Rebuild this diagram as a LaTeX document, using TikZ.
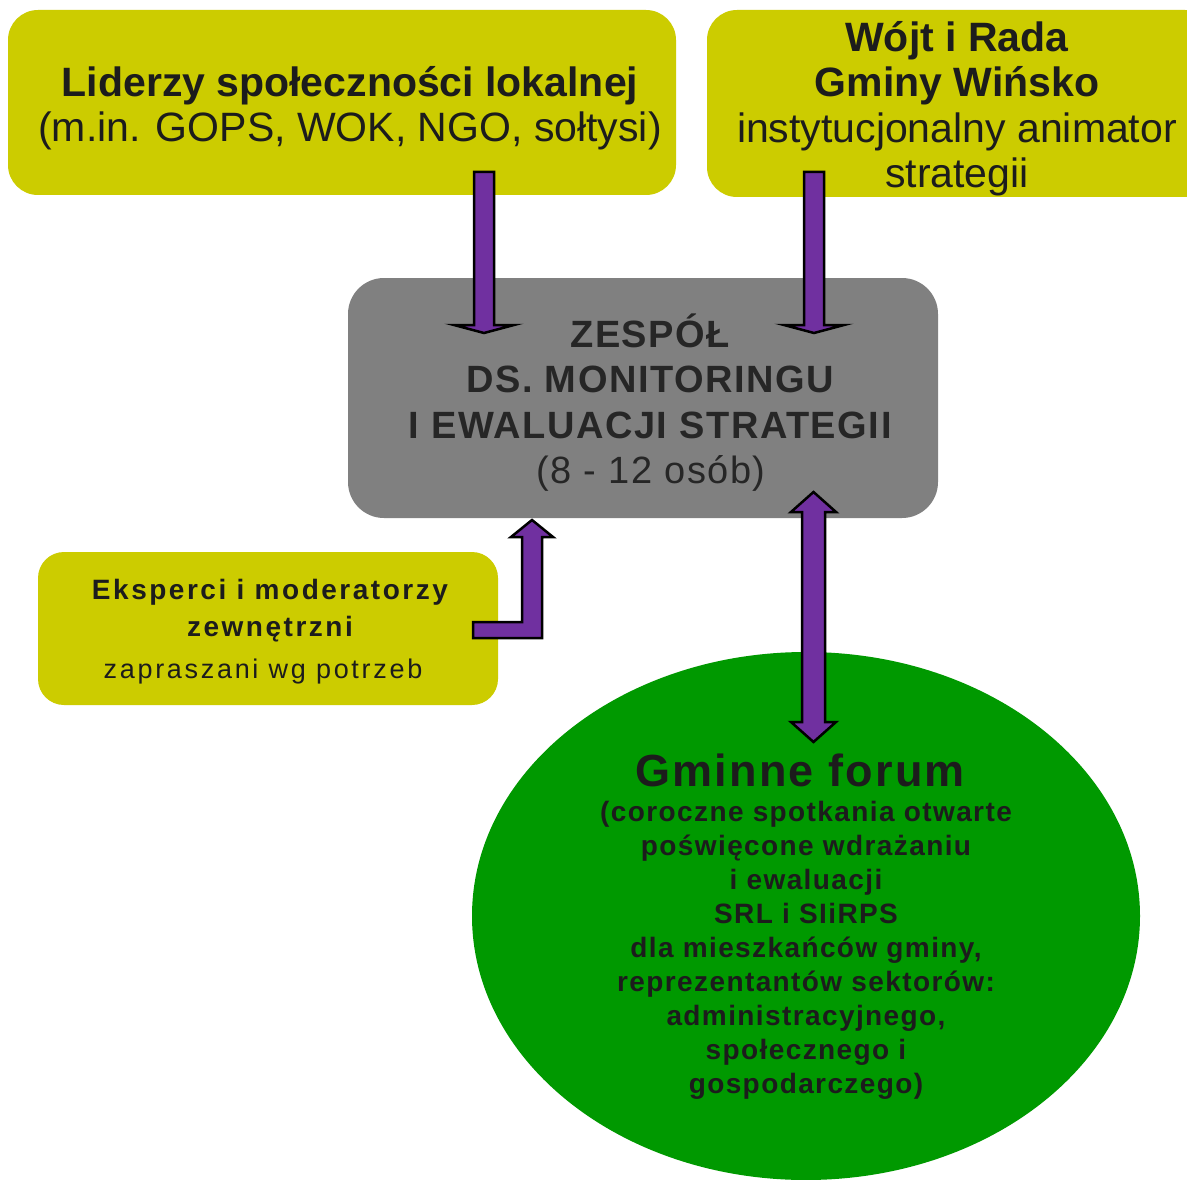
\documentclass[tikz,border=0pt]{standalone}
\usepackage{fontspec}
\setmainfont{Liberation Sans}
\usetikzlibrary{shapes.geometric,calc}
\definecolor{boxyellow}{HTML}{CCCC00}
\definecolor{boxgray}{HTML}{808080}
\definecolor{forumgreen}{HTML}{009900}
\definecolor{arrowpurple}{HTML}{7030A0}
\definecolor{txtdark}{HTML}{1C1C1C}
\definecolor{txtgray}{HTML}{262626}
\tikzset{
  ybox/.style={rectangle, fill=boxyellow, draw=none, rounded corners=30pt, inner sep=0pt},
  gbox/.style={rectangle, fill=boxgray, draw=none, rounded corners=36pt, inner sep=0pt},
  forum/.style={ellipse, fill=forumgreen, draw=none, inner sep=0pt},
  txt/.style={align=center, inner sep=0pt, text=txtdark},
  blockarr/.style={fill=arrowpurple, draw=black, line width=2.5pt, line join=miter}
}
\begin{document}
\begin{tikzpicture}[x=1pt,y=-1pt]
\clip (0,0) rectangle (1187,1180);
\fill[white] (0,0) rectangle (1187,1180);
% boxes
\node[ybox, minimum width=668pt, minimum height=185pt] (A) at (342,102.5) {};
\node[ybox, minimum width=508pt, minimum height=187pt] (B) at (961,103.5) {};
\node[gbox, minimum width=590pt, minimum height=240pt] (C) at (643,398) {};
\node[ybox, rounded corners=26pt, minimum width=460pt, minimum height=153pt] (D) at (268,628.5) {};
\node[forum, minimum width=668pt, minimum height=528pt] (E) at (806,916) {};
% texts
\node[txt, font=\fontsize{41}{45.3}\selectfont] (At) at (350,108)
  {\textbf{Liderzy społeczności lokalnej}\\(m.in. GOPS, WOK, NGO, sołtysi)};
\node[txt, font=\fontsize{41}{45.3}\selectfont] (Bt) at (957,108.6)
  {\textbf{Wójt i Rada}\\\textbf{Gminy Wińsko}\\instytucjonalny animator\\strategii};
\node[txt, text=txtgray, font=\fontsize{38}{45.3}\selectfont\addfontfeatures{LetterSpace=4}] (Ct) at (651,402.5)
  {\textbf{ZESPÓŁ}\\\textbf{DS. MONITORINGU}\\\textbf{I EWALUACJI STRATEGII}\\(8 - 12 osób)};
\node[txt, font=\fontsize{28}{37}\selectfont\bfseries\addfontfeatures{LetterSpace=9}] (Dt) at (270,611)
  {Eksperci i moderatorzy\\zewnętrzni};
\node[txt, font=\fontsize{27}{30}\selectfont\addfontfeatures{LetterSpace=10}] (Dt2) at (263,672)
  {zapraszani wg potrzeb};
\node[txt, font=\fontsize{45}{48}\selectfont\bfseries\addfontfeatures{LetterSpace=5}] (Et) at (800,770)
  {Gminne forum};
\node[txt, font=\fontsize{28}{34}\selectfont\bfseries\addfontfeatures{LetterSpace=5}] (Et2) at (806,950)
  {(coroczne spotkania otwarte\\poświęcone wdrażaniu\\i ewaluacji\\SRL i SIiRPS\\dla mieszkańców gminy,\\reprezentantów sektorów:\\administracyjnego,\\społecznego i\\gospodarczego)};
% arrow anchor coordinates
\coordinate (p1) at (484,172);
\coordinate (t1) at (484,333);
\coordinate (p2) at (814,172);
\coordinate (t2) at (814,333);
\coordinate (p3) at (473,630);
\coordinate (t3) at (532,520);
\coordinate (t4a) at (813.5,492);
\coordinate (t4b) at (813.5,742);
% arrows
\draw[blockarr] ($(p1)+(-10,0)$) -- ($(t1)+(-10,-8)$) -- ($(t1)+(-30,-8)$) -- (t1)
  -- ($(t1)+(30,-8)$) -- ($(t1)+(10,-8)$) -- ($(p1)+(10,0)$) -- cycle;
\draw[blockarr] ($(p2)+(-10,0)$) -- ($(t2)+(-10,-8)$) -- ($(t2)+(-30,-8)$) -- (t2)
  -- ($(t2)+(30,-8)$) -- ($(t2)+(10,-8)$) -- ($(p2)+(10,0)$) -- cycle;
\draw[blockarr] ($(p3)+(0,-8)$) -- ($(p3 -| t3)+(-10,-8)$) -- ($(t3)+(-10,17)$) -- ($(t3)+(-21,17)$)
  -- (t3) -- ($(t3)+(21,17)$) -- ($(t3)+(10,17)$) -- ($(p3 -| t3)+(10,8)$) -- ($(p3)+(0,8)$) -- cycle;
\draw[blockarr] (t4a) -- ($(t4a)+(22.5,20)$) -- ($(t4a)+(11.5,20)$) -- ($(t4b)+(11.5,-20)$)
  -- ($(t4b)+(22.5,-20)$) -- (t4b) -- ($(t4b)+(-22.5,-20)$) -- ($(t4b)+(-11.5,-20)$)
  -- ($(t4a)+(-11.5,20)$) -- ($(t4a)+(-22.5,20)$) -- cycle;
\end{tikzpicture}
\end{document}
